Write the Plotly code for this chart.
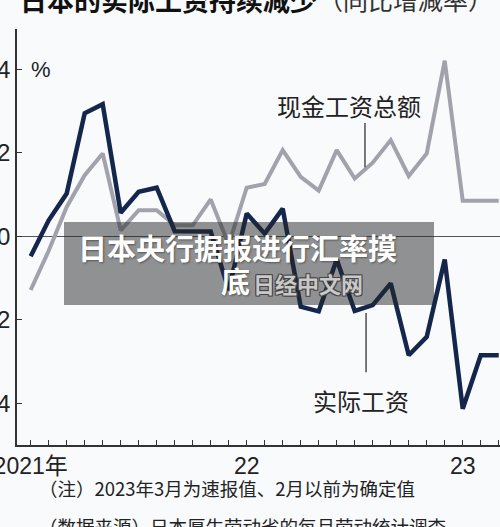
import plotly.graph_objects as go

# ---- data (year-on-year change, %) ----
months = ["2021-01","2021-02","2021-03","2021-04","2021-05","2021-06","2021-07","2021-08",
          "2021-09","2021-10","2021-11","2021-12","2022-01","2022-02","2022-03","2022-04",
          "2022-05","2022-06","2022-07","2022-08","2022-09","2022-10","2022-11","2022-12",
          "2023-01","2023-02","2023-03"]
cash_wages = [-1.29, -0.35, 0.70, 1.46, 1.98, 0.14, 0.62, 0.62, 0.26, 0.26, 0.88, -0.20,
              1.16, 1.25, 2.06, 1.42, 1.09, 2.06, 1.38, 1.76, 2.30, 1.44, 1.98, 4.20,
              0.85, 0.85, 0.85]
real_wages = [-0.48, 0.38, 1.02, 2.94, 3.16, 0.56, 1.06, 1.16, 0.12, 0.12, 0.11, -1.29,
              0.54, 0.06, 0.66, -1.69, -1.80, -0.56, -1.79, -1.65, -1.13, -2.85, -2.41, -0.56,
              -4.13, -2.85, -2.85]
x_tick_vals = [0, 12, 24]
x_tick_text = ["2021年", "22", "23"]
y_tick_vals = [4, 2, 0, -2, -4]
y_tick_text = ["4", "2", "0", "−2", "−4"]

x_idx = list(range(len(months)))

W, H = 500, 527
ML, MR, MT, MB = 17, 0, 29, 82
PW, PH = W - ML - MR, H - MT - MB

def px(xp):
    return (xp - ML) / PW

def py(yp):
    return (H - MB - yp) / PH

CJK = "Noto Sans CJK SC, Noto Sans, sans-serif"
NUM = "Liberation Sans Narrow, Liberation Sans, Noto Sans CJK SC, sans-serif"

fig = go.Figure()
fig.add_trace(go.Scatter(x=x_idx, y=cash_wages, mode="lines",
                         line=dict(color="#a2a2ac", width=4), name="现金工资总额"))
fig.add_trace(go.Scatter(x=x_idx, y=real_wages, mode="lines",
                         line=dict(color="#15264c", width=4.5), name="实际工资"))

fig.update_layout(
    width=W, height=H,
    margin=dict(l=ML, r=MR, t=MT, b=MB, pad=0, autoexpand=False),
    paper_bgcolor="#f8fafc", plot_bgcolor="#f8fafc",
    showlegend=False,
    font=dict(family=CJK, color="#222"),
)
fig.update_xaxes(range=[-0.76, 26.07], showgrid=False, zeroline=False, automargin=False,
                 showline=True, linecolor="#333", linewidth=1.5,
                 tickvals=x_tick_vals, ticktext=x_tick_text, ticklabeloverflow="allow",
                 ticks="inside", ticklen=5, tickcolor="#333",
                 minor=dict(dtick=1, tick0=0, ticks="inside", ticklen=5, tickcolor="#333"),
                 tickfont=dict(family=NUM, size=23, color="#222"))
fig.update_yaxes(range=[-5, 4.96], showgrid=False, automargin=False,
                 zeroline=True, zerolinecolor="#555", zerolinewidth=1.2,
                 showline=True, linecolor="#333", linewidth=1.5,
                 tickvals=y_tick_vals, ticktext=y_tick_text, ticklabeloverflow="allow",
                 ticks="inside", ticklen=5, tickcolor="#333",
                 tickfont=dict(family=NUM, size=24, color="#222"))

ann = []
# title
ann.append(dict(xref="paper", yref="paper", x=px(18), y=py(-1), xanchor="left", yanchor="middle",
                text="<b>日本的实际工资持续减少</b>", showarrow=False,
                font=dict(family=CJK, size=27, color="#111")))
ann.append(dict(xref="paper", yref="paper", x=px(316), y=py(-1), xanchor="left", yanchor="middle",
                text="（同比增减率）", showarrow=False,
                font=dict(family=CJK, size=25, color="#333")))
# unit
ann.append(dict(xref="paper", yref="paper", x=px(41), y=py(69), xanchor="center", yanchor="middle",
                text="%", showarrow=False, font=dict(family=NUM, size=22, color="#222")))
# series labels
ann.append(dict(xref="x", yref="y", x=17.68, y=3.14, xanchor="center", yanchor="middle",
                text="现金工资总额", showarrow=False, font=dict(family=CJK, size=24, color="#222")))
ann.append(dict(xref="x", yref="y", x=18.35, y=-3.93, xanchor="center", yanchor="middle",
                text="实际工资", showarrow=False, font=dict(family=CJK, size=24, color="#222")))
# notes
ann.append(dict(xref="paper", yref="paper", x=px(37), y=py(488), xanchor="left", yanchor="middle",
                text="（注）2023年3月为速报值、2月以前为确定值", showarrow=False,
                font=dict(family=CJK, size=18.5, color="#222")))
ann.append(dict(xref="paper", yref="paper", x=px(37), y=py(526), xanchor="left", yanchor="middle",
                text="（数据来源）日本厚生劳动省的每月劳动统计调查", showarrow=False,
                font=dict(family=CJK, size=18.5, color="#222")))
# overlay headline
ann.append(dict(xref="paper", yref="paper", x=px(237.5), y=py(247), xanchor="center", yanchor="middle",
                text="<b>日本央行据报进行汇率摸</b>", showarrow=False,
                font=dict(family=CJK, size=29, color="#ffffff", shadow="1px 1px 2px rgba(0,0,0,0.4)")))
ann.append(dict(xref="paper", yref="paper", x=px(235), y=py(280), xanchor="center", yanchor="middle",
                text="<b>底</b>", showarrow=False,
                font=dict(family=CJK, size=29, color="#ffffff", shadow="1px 1px 2px rgba(0,0,0,0.4)")))
ann.append(dict(xref="paper", yref="paper", x=px(308), y=py(283), xanchor="center", yanchor="middle",
                text="<b>日经中文网</b>", showarrow=False,
                font=dict(family=CJK, size=22, color="#c9c9c9",
                          shadow="1px 1px 0 #444, -1px -1px 0 #444, 1px -1px 0 #444, -1px 1px 0 #444")))
fig.update_layout(annotations=ann)

shapes = [
    dict(type="line", xref="x", yref="y", x0=18.57, x1=18.57, y0=2.71, y1=1.65,
         line=dict(color="#333", width=1.3)),
    dict(type="line", xref="x", yref="y", x0=18.63, x1=18.63, y0=-1.84, y1=-3.26,
         line=dict(color="#333", width=1.3)),
    dict(type="rect", xref="paper", yref="paper", x0=px(64), x1=px(434), y0=py(305), y1=py(222),
         fillcolor="rgba(40,40,40,0.5)", line=dict(width=0), layer="above"),
]
fig.update_layout(shapes=shapes)

fig.write_html("out.html", config={"displayModeBar": False},
               post_script="document.body.style.margin='0px';document.body.style.background='#f8fafc';")
